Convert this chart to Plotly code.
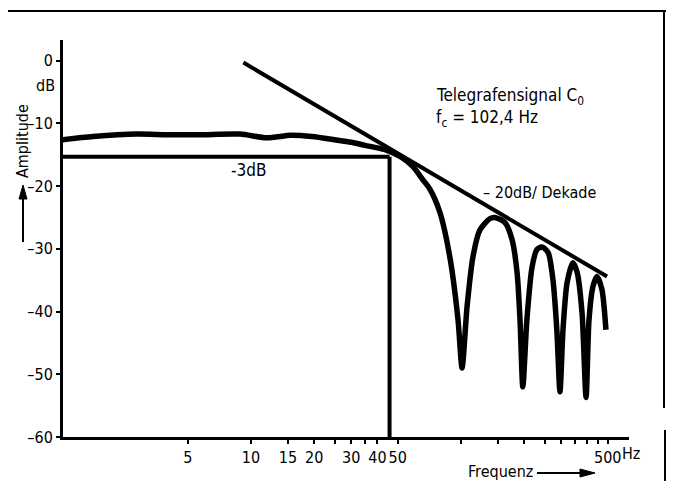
import plotly.graph_objects as go

# ---- data ----
spec_freq = [1.27, 1.77, 2.87, 3.98, 5.7, 8.87, 11.9, 15.5, 19.5, 25, 30, 35, 40, 44.5,
             52, 59.1, 65.9, 71.2, 79.4, 88.7, 96.8, 101.2, 106.9, 114, 123, 137, 145,
             162, 175, 185, 191, 197, 206, 218, 230, 243, 260, 274, 286, 296, 306, 320,
             341, 357, 377, 394, 407, 425, 444, 469, 490]
spec_amp = [-12.6, -12.1, -11.7, -11.8, -11.8, -11.7, -12.3, -11.9, -12.1, -12.6, -13.0,
            -13.5, -13.9, -14.3, -15.4, -16.9, -19.0, -20.5, -24.2, -31.5, -41.3, -49.0,
            -39.2, -31.3, -27.0, -25.2, -25.0, -25.8, -28.5, -33.8, -41.3, -52.0, -41.3,
            -32.9, -30.1, -29.7, -30.6, -34.9, -42.9, -52.8, -42.9, -35.4, -32.2, -33.7,
            -40.2, -53.7, -41.3, -36.0, -34.4, -36.5, -42.9]

asym_freq = [9.2, 496]
asym_amp = [-0.3, -34.4]

h3db_freq = [1.27, 45.7]
h3db_amp = [-15.3, -15.3]
v3db_freq = [45.7, 45.7]
v3db_amp = [-15.3, -60]

x_tickvals = [5, 10, 15, 20, 30, 40, 50, 500]
x_ticktext = ["5", "10", "15", "20", "30", "40", "50", "500"]
x_minor_ticks = [25, 35, 100, 150, 200, 250, 300, 350, 400, 450]
y_tickvals = [0, -10, -20, -30, -40, -50, -60]
y_ticktext = ["0", "\u201310", "\u201320", "\u201330", "\u201340", "\u201350", "\u201360"]

# ---- layout helpers (screen pixel -> paper); page body has an 8px margin ----
OFF = 8
W, H = 674 - 2 * OFF, 489 - 2 * OFF
L, R, T, B = 63, 629, 40, 437
def px(x):
    return (x - L) / (R - L)
def py(y):
    return (B - y) / (B - T)

FONT = "DejaVu Sans Condensed, Liberation Sans Narrow, DejaVu Sans, sans-serif"

fig = go.Figure()
fig.add_trace(go.Scatter(x=h3db_freq, y=h3db_amp, mode="lines",
                         line=dict(color="black", width=4), hoverinfo="skip"))
fig.add_trace(go.Scatter(x=v3db_freq, y=v3db_amp, mode="lines",
                         line=dict(color="black", width=4), hoverinfo="skip"))
fig.add_trace(go.Scatter(x=asym_freq, y=asym_amp, mode="lines",
                         line=dict(color="black", width=4), hoverinfo="skip"))
fig.add_trace(go.Scatter(x=spec_freq, y=spec_amp, mode="lines",
                         line=dict(color="black", width=5.5, shape="spline", smoothing=0.7),
                         hoverinfo="skip"))

ann = []
def text(x, y, t, size=16, xanchor="center", angle=0):
    ann.append(dict(x=px(x), y=py(y), xref="paper", yref="paper", text=t, showarrow=False,
                    xanchor=xanchor, yanchor="middle", textangle=angle,
                    font=dict(family=FONT, size=size, color="black")))

text(45, 85, "dB", 16)
text(22, 141, "Amplitude", 16, angle=-90)
text(248, 170, "-3dB", 17)
text(434, 96, "Telegrafensignal C<sub>0</sub>", 17, xanchor="left")
text(434, 118, "f<sub>c</sub> = 102,4 Hz", 17, xanchor="left")
text(481, 192, "\u2013 20dB/ Dekade", 16, xanchor="left")
text(500, 471, "Frequenz", 16)
text(620, 453, "Hz", 16, xanchor="left")

# arrows (drawn as shapes)
shapes = [
    dict(type="line", xref="paper", yref="paper", x0=px(0), x1=px(666), y0=py(11), y1=py(11),
         line=dict(color="black", width=2)),
    dict(type="line", xref="paper", yref="paper", x0=px(664), x1=px(664), y0=py(11), y1=py(408),
         line=dict(color="black", width=2)),
    dict(type="line", xref="paper", yref="paper", x0=px(665), x1=px(665), y0=py(430), y1=py(489),
         line=dict(color="black", width=2)),
    # Amplitude arrow shaft + head
    dict(type="line", xref="paper", yref="paper", x0=px(23), x1=px(23), y0=py(242), y1=py(196),
         line=dict(color="black", width=2)),
    dict(type="path", xref="paper", yref="paper",
         path=f"M {px(23)},{py(185)} L {px(19)},{py(199)} L {px(27)},{py(199)} Z",
         fillcolor="black", line=dict(color="black", width=1)),
    # Frequenz arrow shaft + head
    dict(type="line", xref="paper", yref="paper", x0=px(537), x1=px(583), y0=py(473), y1=py(473),
         line=dict(color="black", width=2)),
    dict(type="path", xref="paper", yref="paper",
         path=f"M {px(595)},{py(473)} L {px(580)},{py(469)} L {px(580)},{py(477)} Z",
         fillcolor="black", line=dict(color="black", width=1)),
]

fig.update_layout(
    width=W, height=H,
    margin=dict(l=L - OFF, r=W - (R - OFF), t=T - OFF, b=H - (B - OFF)),
    paper_bgcolor="white", plot_bgcolor="white",
    showlegend=False,
    annotations=ann, shapes=shapes,
    font=dict(family=FONT, color="black"),
    xaxis=dict(type="log", range=[0.105, 2.80], showgrid=False, zeroline=False,
               showline=True, linewidth=3, linecolor="black",
               ticks="outside", ticklen=4, tickwidth=2, tickcolor="black",
               tickvals=x_tickvals, ticktext=x_ticktext,
               minor=dict(tickvals=x_minor_ticks, ticks="outside", ticklen=4,
                          tickwidth=2, tickcolor="black", showgrid=False),
               tickfont=dict(family=FONT, size=16, color="black")),
    yaxis=dict(range=[-60, 3.3], showgrid=False, zeroline=False,
               showline=True, linewidth=3, linecolor="black",
               ticks="outside", ticklen=4, tickwidth=2, tickcolor="black",
               tickvals=y_tickvals, ticktext=y_ticktext,
               tickfont=dict(family=FONT, size=16, color="black")),
)

fig.write_html("out.html")
